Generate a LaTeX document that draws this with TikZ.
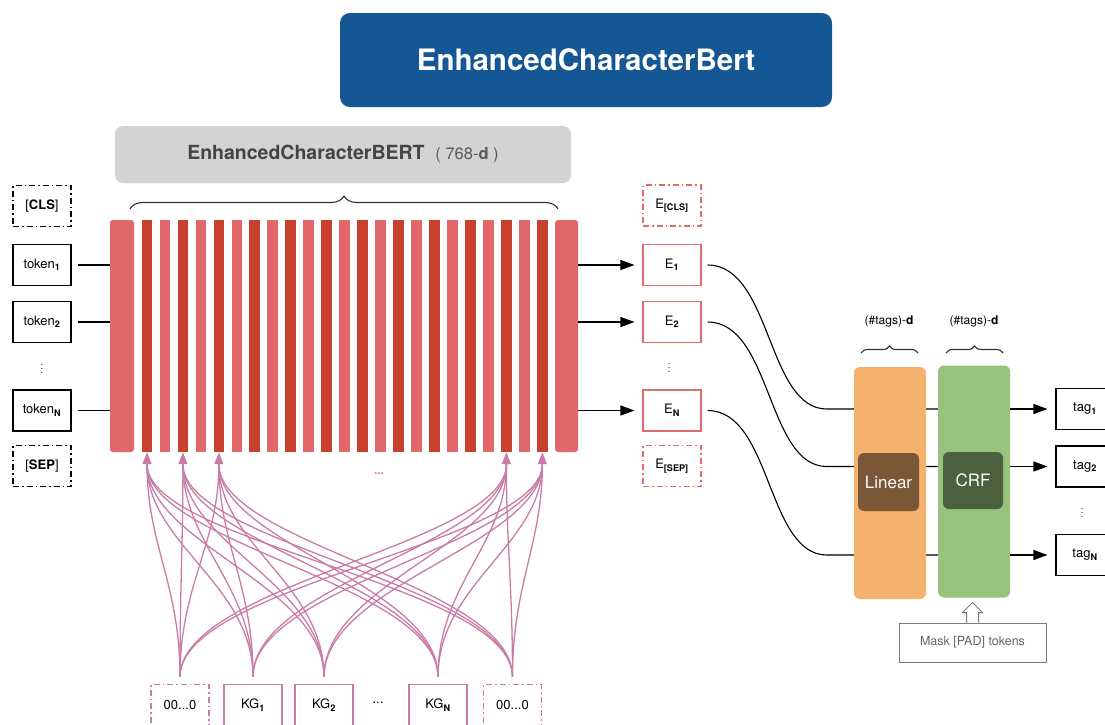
\documentclass[tikz,border=0pt]{standalone}
\usepackage{fontspec}
\setmainfont{TeX Gyre Heros}
\usepackage{tikz}
\usetikzlibrary{arrows.meta}
\usetikzlibrary{decorations.pathreplacing}
\usetikzlibrary{backgrounds,positioning}

\definecolor{titleblue}{HTML}{155694}
\definecolor{boxgray}{HTML}{D3D3D3}
\definecolor{labelgray}{HTML}{444444}
\definecolor{barlight}{HTML}{E0686B}
\definecolor{bardark}{HTML}{C8412F}
\definecolor{ered}{HTML}{E26C6C}
\definecolor{kgpink}{HTML}{C97CA6}
\definecolor{linorange}{HTML}{F5B16E}
\definecolor{linbrown}{HTML}{7A5737}
\definecolor{crfgreen}{HTML}{96C47E}
\definecolor{crfdark}{HTML}{4A603F}
\definecolor{maskgray}{HTML}{7A7A7A}

\begin{document}
\begin{tikzpicture}[x=1pt,y=-1pt]
    \tikzstyle{tokbox} = [
      rectangle,
      draw,
      line width=1.1pt,
      minimum width=58pt,
      minimum height=41pt,
      inner sep=0pt,
      font=\fontsize{13}{15}\selectfont,
    ]
    \tikzstyle{special} = [
      dash pattern=on 6pt off 3pt on 1.5pt off 3pt,
    ]
    \tikzstyle{ebox} = [tokbox, draw=ered]
    \tikzstyle{kgbox} = [tokbox, draw=kgpink]
    \tikzstyle{bar} = [
      rectangle,
      inner sep=0pt,
      minimum width=10.7pt,
      minimum height=232pt,
    ]
    \tikzstyle{layer} = [
      rectangle,
      rounded corners=6pt,
      minimum width=72pt,
      minimum height=232pt,
    ]
    \tikzstyle{inner} = [
      rectangle,
      rounded corners=6pt,
      minimum width=61pt,
      minimum height=58pt,
      text=white,
      font=\fontsize{17}{19}\selectfont,
    ]
    \tikzstyle{arrow} = [
      line width=1.1pt,
      -{Triangle[length=14pt,width=10pt]},
      shorten >=8pt,
    ]
    \tikzstyle{link} = [
      line width=1.1pt,
    ]
    \tikzstyle{kglink} = [
      line width=1.3pt,
      draw=kgpink,
      shorten <=7pt,
    ]
    \tikzstyle{kgarrow} = [
      line width=1.3pt,
      draw=kgpink,
      -{Triangle[length=12pt,width=9pt]},
    ]
    \tikzstyle{dimbrace} = [
      decorate,
      line width=1.1pt,
      draw=black!80,
    ]
    \tikzstyle{dots} = [
      inner sep=0pt,
      font=\fontsize{9}{9}\selectfont,
    ]

    \newcommand{\tsub}[1]{\textsubscript{\textbf{#1}}}

    \useasboundingbox (0,0) rectangle (1105,724);

    \node[rectangle,rounded corners=10pt,fill=titleblue,text=white,minimum width=492pt,minimum height=94pt,font=\fontsize{29.5}{32}\selectfont\bfseries] (title) at (586,60) {EnhancedCharacterBert};
    \node[rectangle,rounded corners=8pt,fill=boxgray,text=labelgray,minimum width=456pt,minimum height=57pt,font=\fontsize{19.5}{22}\selectfont] (bert) at (343,154.5) {\textbf{EnhancedCharacterBERT}\ \ {\fontsize{16.5}{18}\selectfont\color{black!65}( 768-\textbf{d} )}};

    \node[tokbox,special] (cls) at (42,206) {[\textbf{CLS}]};
    \node[tokbox] (tok1) at (42,265) {token\tsub{1}};
    \node[tokbox] (tok2) at (42,322) {token\tsub{2}};
    \node[dots] (tokdots) at (42,366) {$\vdots$};
    \node[tokbox] (tokN) at (42,410.5) {token\tsub{N}};
    \node[tokbox,special] (sep) at (42,466) {[\textbf{SEP}]};

    \node[bar,fill=barlight,rounded corners=3pt,minimum width=24pt] (blockL) at (122,336) {};
    \foreach \i in {1,...,23} {
      \ifodd\i \def\barcol{bardark}\else \def\barcol{barlight}\fi
      \node[bar,fill=\barcol] (bar\i) at ({147+(\i-1)*17.97},336) {};
    }
    \node[bar,fill=barlight,rounded corners=3pt,minimum width=23pt] (blockR) at (566.5,336) {};
    \draw[dimbrace,decoration={brace,amplitude=13pt}] (130,209) -- (558,209);
    \node[text=kgpink,font=\fontsize{12}{14}\selectfont\bfseries] (bardots) at (379,474) {...};

    \foreach \t in {tok1,tok2,tokN}
      \draw[link,shorten <=6pt] (\t.east) -- (blockL.west |- \t);

    \node[ebox,special] (ecls) at (672,205.5) {E\tsub{[CLS]}};
    \node[ebox] (e1) at (672,265) {E\tsub{1}};
    \node[ebox] (e2) at (672,322) {E\tsub{2}};
    \node[dots] (edots) at (669,365) {$\vdots$};
    \node[ebox] (eN) at (672,410.5) {E\tsub{N}};
    \node[ebox,special] (esep) at (672,466) {E\tsub{[SEP]}};

    \foreach \e in {e1,e2,eN}
      \draw[arrow] (blockR.east |- \e) -- (\e.west);

    \node[layer,fill=linorange] (linear) at (890,483) {};
    \node[inner,fill=linbrown] (linearin) at (888.5,482) {Linear};
    \node[layer,fill=crfgreen] (crf) at (974,481.5) {};
    \node[inner,fill=crfdark,minimum width=60pt,minimum height=57pt] (crfin) at (973,480.5) {CRF};
    \node[font=\fontsize{12}{14}\selectfont] (lindim) at (889,321) {(\#tags)-\textbf{d}};
    \node[font=\fontsize{12}{14}\selectfont] (crfdim) at (974,321) {(\#tags)-\textbf{d}};
    \draw[dimbrace,decoration={brace,amplitude=7pt}] (861,353) -- (918,353);
    \draw[dimbrace,decoration={brace,amplitude=7pt}] (946,353) -- (1003,353);

    \node[tokbox] (tag1) at (1085,409) {tag\tsub{1}};
    \node[tokbox] (tag2) at (1085,466.5) {tag\tsub{2}};
    \node[dots] (tagdots) at (1082,510) {$\vdots$};
    \node[tokbox] (tagN) at (1085,555) {tag\tsub{N}};

    \begin{scope}[on background layer]
      \foreach \e/\t in {e1/tag1,e2/tag2,eN/tagN} {
        \path (linear.west |- \t) ++(-27,0) coordinate (k\t);
        \draw[link,shorten <=6pt] (\e.east) .. controls +(70,0) and +(-60,0) .. (k\t) -- (crf.east |- \t);
      }
    \end{scope}
    \foreach \t in {tag1,tag2,tagN}
      \draw[arrow] (crf.east |- \t) -- (\t.west);

    \node[rectangle,draw=maskgray,line width=1pt,text=black!60,minimum width=147pt,minimum height=39pt,font=\fontsize{12.5}{14}\selectfont] (mask) at (972.5,642.5) {Mask [PAD] tokens};
    \draw[maskgray,line width=1pt,fill=white] ([xshift=-6pt]mask.north) -- ++(0,-10) -- ++(-4,0) -- ++(10,-10) -- ++(10,10) -- ++(-4,0) -- ++(0,10);

    \node[kgbox,special] (zeroL) at (180,705) {00...0};
    \node[kgbox] (kg1) at (253,705) {KG\tsub{1}};
    \node[kgbox] (kg2) at (324,705) {KG\tsub{2}};
    \node[font=\fontsize{13}{15}\selectfont] (kgdots) at (378,703) {...};
    \node[kgbox] (kgN) at (438,705) {KG\tsub{N}};
    \node[kgbox,special] (zeroR) at (512.5,705) {00...0};

    \foreach \t in {1,3,5,21,23} {
      \coordinate (in\t) at ([yshift=-12pt]bar\t.south);
      \draw[kgarrow] (in\t) -- (bar\t.south);
    }
    \foreach \s in {zeroL,kg1,kg2,kgN,zeroR}
      \foreach \t in {1,3,5,21,23}
        \draw[kglink] (\s.north) .. controls +(0,-100) and +(0,80) .. (in\t);
  \end{tikzpicture}
\end{document}
